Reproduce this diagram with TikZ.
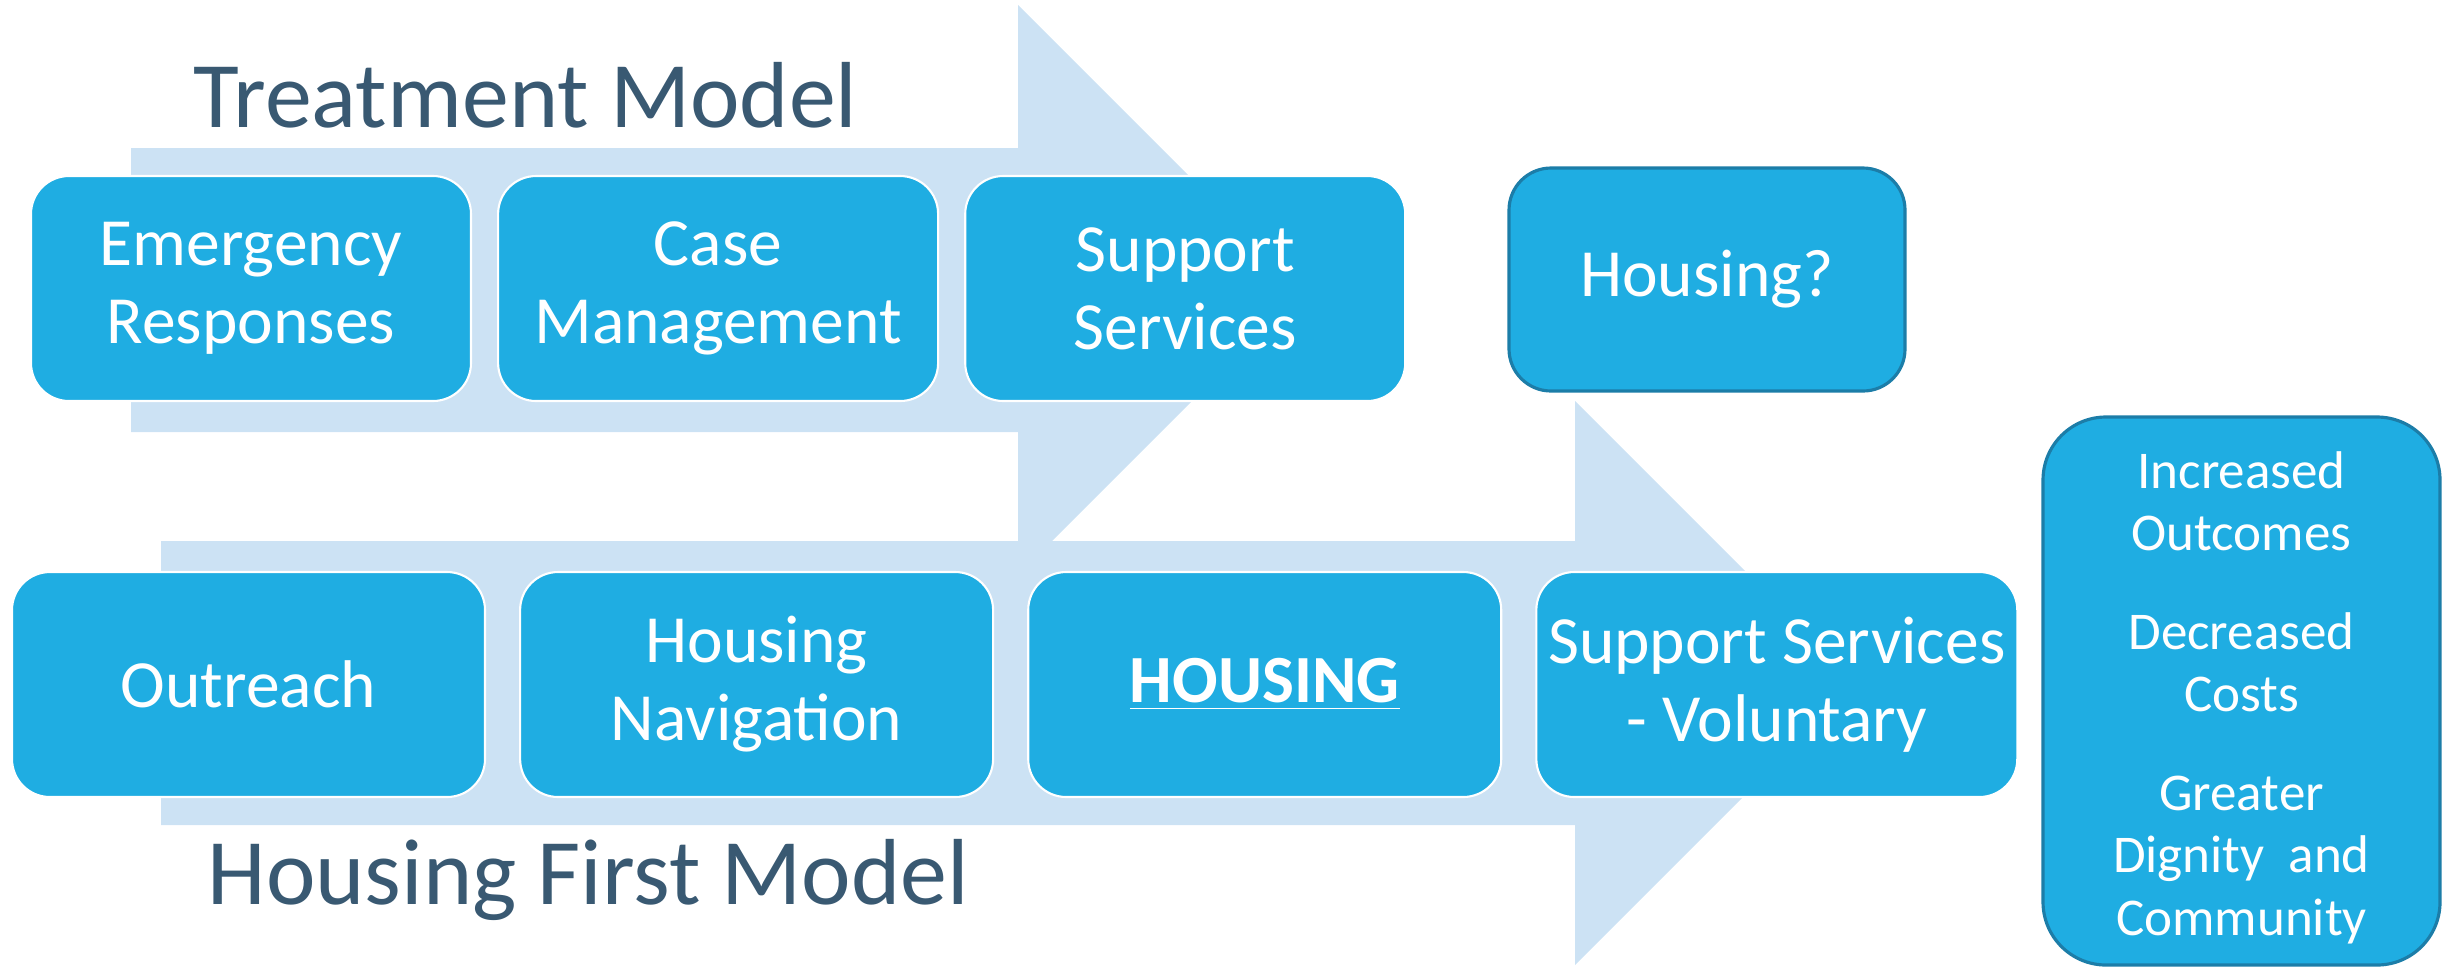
\documentclass[tikz,border=0pt]{standalone}
\usepackage{fontspec}
\setmainfont{Carlito}
\usetikzlibrary{positioning}
\definecolor{arrowblue}{RGB}{204,226,244}
\definecolor{boxblue}{RGB}{31,173,226}
\definecolor{edgeblue}{RGB}{28,125,168}
\definecolor{titleblue}{RGB}{57,89,114}
\tikzset{
  mybox/.style={draw=white, line width=0.6pt, fill=boxblue, text=white, rounded corners=0.38cm,
    align=center, minimum height=2.25cm, font=\fontsize{19.2}{22.2}\selectfont},
  myendbox/.style={mybox, draw=edgeblue, line width=0.9pt, rounded corners=0.42cm},
  mytitle/.style={text=titleblue, inner sep=0pt, font=\fontsize{26.7}{32}\selectfont}
}

\begin{document}
\begin{tikzpicture}
    \useasboundingbox (0,0) rectangle (24.45,-9.66);

    % big arrows behind the boxes
    \fill[arrowblue] (1.31,-1.48) -- (10.18,-1.48) -- (10.18,-0.05) -- (13.03,-2.90)
        -- (10.18,-5.75) -- (10.18,-4.32) -- (1.31,-4.32) -- cycle;
    \fill[arrowblue] (1.61,-5.41) -- (15.75,-5.41) -- (15.75,-4.01) -- (18.57,-6.83)
        -- (15.75,-9.65) -- (15.75,-8.25) -- (1.61,-8.25) -- cycle;

    \node(treat)[mytitle, anchor=base west] at (1.93,-1.27){Treatment Model};
    \node(hfirst)[mytitle, anchor=base west] at (2.07,-9.04){Housing First Model};

    % treatment row
    \node(emerg)[mybox, minimum width=4.4cm] at (2.51,-2.885){Emergency\\Responses};
    \node(casem)[mybox, minimum width=4.4cm, right=0.25cm of emerg]{Case\\Management};
    \node(supp)[mybox, minimum width=4.4cm, right=0.25cm of casem]{Support\\Services};
    \node(housq)[myendbox, minimum width=3.96cm, minimum height=2.23cm] at (17.07,-2.795){Housing?};

    % housing first row
    \node(outr)[mybox, minimum width=4.73cm] at (2.485,-6.845){Outreach};
    \node(hnav)[mybox, minimum width=4.73cm, right=0.33cm of outr]{Housing\\Navigation};
    \node(hous)[mybox, minimum width=4.73cm, right=0.33cm of hnav]{\textbf{\underline{HOUSING}}};
    \node(suppv)[mybox, minimum width=4.73cm, right=0.33cm of hous]{Support Services\\- Voluntary};

    \node(outc)[myendbox, minimum width=3.97cm, minimum height=5.48cm, rounded corners=0.63cm,
        font=\fontsize{15.1}{17.8}\selectfont] at (22.415,-6.91)
        {\rule{0pt}{0.5cm}Increased\\Outcomes\\[0.36cm]Decreased\\Costs\\[0.36cm]Greater\\Dignity~~and\\Community};
\end{tikzpicture}
\end{document}
